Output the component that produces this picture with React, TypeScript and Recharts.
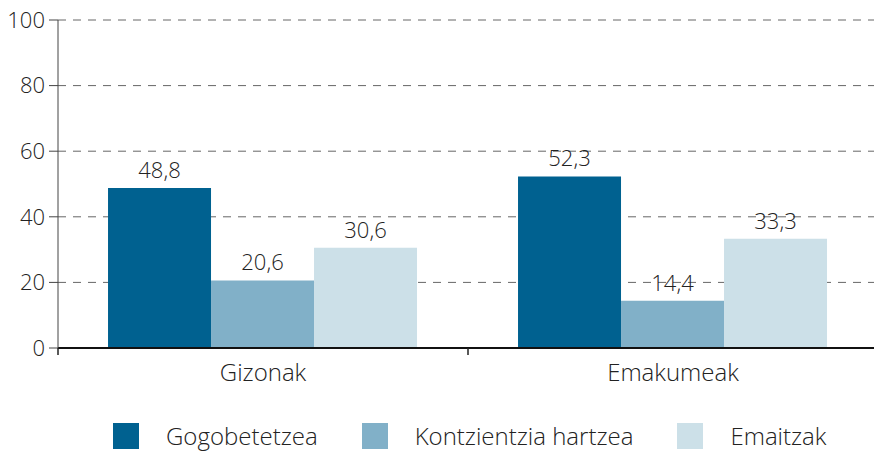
import React from "react";
import { BarChart, Bar, XAxis, YAxis, CartesianGrid, Legend, LabelList } from "recharts";

const categories = ["Gizonak", "Emakumeak"];
const gogobetetzea = [48.8, 52.3];
const kontzientzia = [20.6, 14.4];
const emaitzak = [30.6, 33.3];
const yTicks = [0, 20, 40, 60, 80, 100];

const seriesNames = ["Gogobetetzea", "Kontzientzia hartzea", "Emaitzak"];
const colors = ["#006190", "#81B0C8", "#CCE0E8"];

const data = categories.map((c, i) => ({
  name: c,
  g: gogobetetzea[i],
  k: kontzientzia[i],
  e: emaitzak[i],
}));

const FONT = "'Open Sans', 'Noto Sans', sans-serif";
const fmt = (v: any) => String(v).replace(".", ",");

const XTick = (props: any) => {
  const { x, y, payload } = props;
  const off = payload.offset || 0;
  return (
    <g>
      <line x1={x - off} x2={x - off} y1={y - 8} y2={y - 1} stroke="#222" strokeWidth={1.5} />
      <text x={x} y={y + 25} textAnchor="middle" fontFamily={FONT} fontWeight={300} fontSize={24} fill="#222">
        {payload.value}
      </text>
    </g>
  );
};

const LegendContent = () => (
  <div style={{ height: 53, paddingTop: 23, boxSizing: "border-box", display: "flex", paddingLeft: 113 }}>
    {seriesNames.map((n, i) => (
      <div key={n} style={{ display: "flex", alignItems: "center", marginRight: 44, height: 30 }}>
        <div style={{ width: 26, height: 26, background: colors[i], marginRight: 27 }} />
        <span style={{ fontFamily: FONT, fontWeight: 300, fontSize: 24, color: "#222", lineHeight: "30px", whiteSpace: "nowrap" }}>{n}</span>
      </div>
    ))}
  </div>
);

export default function App() {
  return (
    <div style={{ position: "absolute", left: 0, top: 0 }}>
      <BarChart
        width={874}
        height={451}
        data={data}
        margin={{ top: 20, right: -4, left: 0, bottom: 0 }}
        barCategoryGap="12.2%"
        barGap={0}
      >
        <CartesianGrid vertical={false} stroke="#666" strokeDasharray="8 7" />
        <XAxis
          dataKey="name"
          height={50}
          tickLine={false}
          axisLine={{ stroke: "#111", strokeWidth: 2 }}
          tick={<XTick />}
          interval={0}
        />
        <YAxis
          domain={[0, 100]}
          ticks={yTicks}
          width={58}
          tickSize={9}
          tickLine={{ stroke: "#444" }}
          axisLine={{ stroke: "#444" }}
          tick={{ fontFamily: FONT, fontWeight: 300, fontSize: 22, fill: "#222" }}
          tickMargin={4}
        />
        <Legend verticalAlign="bottom" content={<LegendContent />} />
        {(["g", "k", "e"] as const).map((key, i) => (
          <Bar key={key} dataKey={key} name={seriesNames[i]} fill={colors[i]} isAnimationActive={false}>
            <LabelList
              dataKey={key}
              position="top"
              offset={10}
              formatter={fmt}
              style={{ fontFamily: FONT, fontWeight: 300, fontSize: 22, fill: "#222" }}
            />
          </Bar>
        ))}
      </BarChart>
    </div>
  );
}
